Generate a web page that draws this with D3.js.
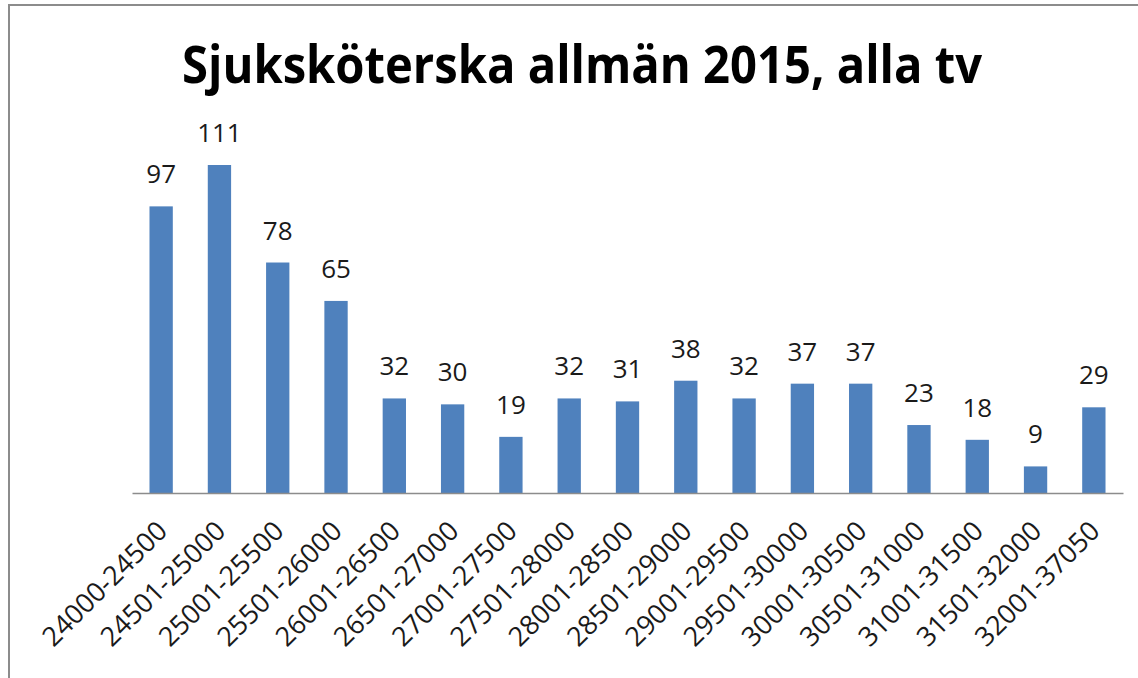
<!DOCTYPE html>
<html>
<head>
<meta charset="utf-8">
<script src="https://cdn.jsdelivr.net/npm/d3@7"></script>
<style>
  body { margin: 0; background: #fff; }
  text { font-family: "Open Sans", sans-serif; }
</style>
</head>
<body>
<script>
var titleText = "Sjuksköterska allmän 2015, alla tv";
var categories = ["24000-24500", "24501-25000", "25001-25500", "25501-26000", "26001-26500",
	"26501-27000", "27001-27500", "27501-28000", "28001-28500", "28501-29000", "29001-29500",
	"29501-30000", "30001-30500", "30501-31000", "31001-31500", "31501-32000", "32001-37050"];
var counts = [97, 111, 78, 65, 32, 30, 19, 32, 31, 38, 32, 37, 37, 23, 18, 9, 29];

function makeChart() {
	var w = 1138;
	var h = 678;
	var left = 132, right = 1123, base = 493;

	var svg = d3.select("body")
				.append("svg")
				.attr("width", w)
				.attr("height", h);

	// only the top and left edges of the frame are in view
	svg.append("rect")
	   .attr("x", 9)
	   .attr("y", 5)
	   .attr("width", w + 20)
	   .attr("height", h + 20)
	   .attr("fill", "none")
	   .attr("stroke", "#8c8c8c")
	   .attr("stroke-width", 2);

	var title = svg.append("text")
	   .text(titleText)
	   .attr("x", 582)
	   .attr("y", 83)
	   .attr("text-anchor", "middle")
	   .attr("font-size", "52px")
	   .attr("font-weight", "bold")
	   .attr("fill", "#000");
	title.attr("textLength", 800).attr("lengthAdjust", "spacingAndGlyphs");

	var x = d3.scaleBand()
			  .domain(categories)
			  .range([left, right])
			  .paddingInner(0.6)
			  .paddingOuter(0.3);

	var y = d3.scaleLinear()
			  .domain([0, 111])
			  .range([base, 165]);

	var data = categories.map(function(c, i) {
		return { label: c, value: counts[i] };
	});

	svg.selectAll("rect.bar")
	   .data(data)
	   .enter()
	   .append("rect")
	   .attr("class", "bar")
	   .attr("x", function(d) { return x(d.label); })
	   .attr("y", function(d) { return y(d.value); })
	   .attr("width", x.bandwidth())
	   .attr("height", function(d) { return base - y(d.value); })
	   .attr("fill", "#4f81bd");

	svg.selectAll("text.val")
	   .data(data)
	   .enter()
	   .append("text")
	   .attr("class", "val")
	   .text(function(d) { return d.value; })
	   .attr("text-anchor", "middle")
	   .attr("x", function(d) { return x(d.label) + x.bandwidth() / 2; })
	   .attr("y", function(d) { return y(d.value) - 23; })
	   .attr("font-size", "26px")
	   .attr("fill", "#1a1a1a");

	var axis = d3.axisBottom(x).tickSize(0).tickPadding(0);
	var g = svg.append("g")
			   .attr("transform", "translate(0," + base + ")")
			   .call(axis);
	g.select(".domain").attr("stroke", "#8c8c8c").attr("stroke-width", 1.5);
	g.selectAll(".tick text")
	 .attr("font-family", "Open Sans, sans-serif")
	 .attr("font-size", "27px")
	 .attr("fill", "#1a1a1a")
	 .attr("text-anchor", "end")
	 .attr("dy", "0.35em")
	 .attr("transform", "translate(1,33) rotate(-45)");
}

makeChart();
</script>
</body>
</html>
